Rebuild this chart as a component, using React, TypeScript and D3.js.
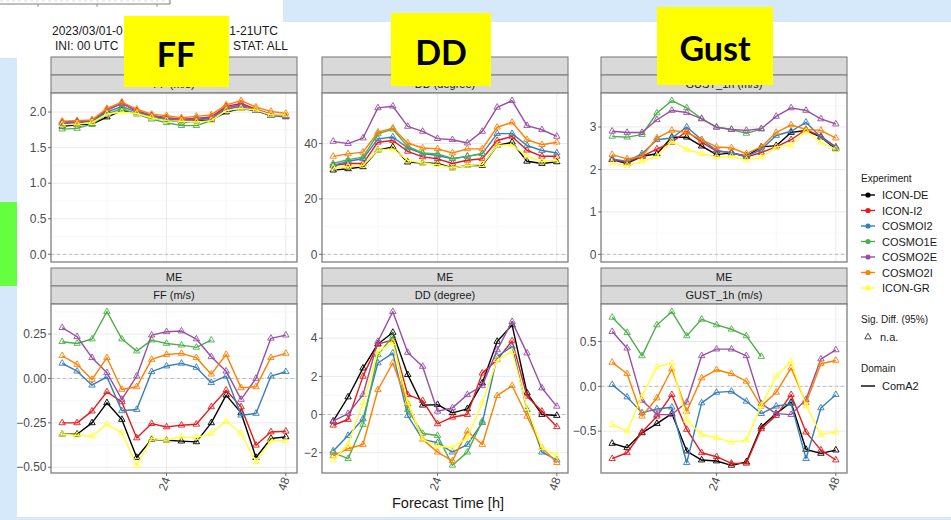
import React from "react";
import * as d3 from "d3";

// Forecast lead times (h)
const hours = [3, 6, 9, 12, 15, 18, 21, 24, 27, 30, 33, 36, 39, 42, 45, 48];

const experiments = ["ICON-DE", "ICON-I2", "COSMOI2", "COSMO1E", "COSMO2E", "COSMO2I", "ICON-GR"];
const palette = ["#000000", "#e41a1c", "#377eb8", "#4daf4a", "#984ea3", "#ff7f00", "#ffff33"];

// RMSE, wind speed FF (m/s)
const rmseFF: Record<string, number[]> = {
  "ICON-DE": [1.80, 1.82, 1.83, 1.93, 2.02, 1.98, 1.92, 1.89, 1.86, 1.87, 1.89, 2.00, 2.05, 2.02, 1.95, 1.94],
  "ICON-I2": [1.86, 1.87, 1.88, 2.03, 2.12, 2.02, 1.95, 1.92, 1.90, 1.91, 1.93, 2.08, 2.12, 2.04, 1.97, 1.95],
  COSMOI2: [1.84, 1.85, 1.87, 2.00, 2.08, 2.00, 1.94, 1.91, 1.88, 1.89, 1.91, 2.04, 2.08, 2.02, 1.95, 1.93],
  COSMO1E: [1.76, 1.77, 1.83, 1.97, 2.05, 1.97, 1.90, 1.85, 1.81, 1.81, 1.88],
  COSMO2E: [1.85, 1.86, 1.88, 2.02, 2.13, 2.01, 1.95, 1.92, 1.89, 1.90, 1.92, 2.06, 2.10, 2.03, 1.96, 1.94],
  COSMO2I: [1.87, 1.88, 1.89, 2.05, 2.14, 2.04, 1.97, 1.95, 1.92, 1.94, 1.96, 2.10, 2.16, 2.07, 2.01, 1.98],
  "ICON-GR": [1.82, 1.83, 1.85, 1.97, 2.00, 1.98, 1.92, 1.88, 1.87, 1.86, 1.88, 2.02, 2.05, 2.03, 1.96, 1.96],
};

// RMSE, wind direction DD (degree)
const rmseDD: Record<string, number[]> = {
  "ICON-DE": [30.4, 30.9, 31.6, 37.6, 38.8, 33.3, 33.0, 32.8, 31.2, 32.1, 32.1, 39.3, 40.5, 33.6, 32.8, 33.4],
  "ICON-I2": [32.1, 32.8, 32.8, 40.5, 41.1, 37.2, 35.2, 34.5, 32.8, 34.0, 34.5, 41.1, 42.6, 37.6, 35.4, 35.4],
  COSMOI2: [32.1, 33.6, 34.5, 41.7, 42.4, 38.4, 36.4, 35.7, 34.5, 35.4, 36.4, 43.6, 43.6, 39.3, 37.5, 36.6],
  COSMO1E: [32.8, 34.2, 35.1, 43.5, 45.2, 39.0, 36.6, 36.3, 34.6, 35.4, 36.3],
  COSMO2E: [40.8, 40.0, 42.0, 52.9, 53.5, 46.2, 44.4, 41.8, 41.4, 40.2, 44.4, 53.1, 55.5, 46.5, 45.0, 42.6],
  COSMO2I: [35.4, 36.3, 36.9, 44.1, 45.6, 40.2, 38.4, 38.1, 36.6, 38.1, 38.1, 45.9, 47.7, 41.4, 39.6, 40.5],
  "ICON-GR": [31.2, 31.6, 32.1, 37.6, 38.1, 33.9, 33.0, 32.4, 31.2, 32.1, 32.4, 39.3, 39.6, 35.4, 33.6, 34.0],
};

// RMSE, hourly gusts (m/s)
const rmseGust: Record<string, number[]> = {
  "ICON-DE": [2.23, 2.14, 2.31, 2.37, 2.76, 2.76, 2.55, 2.35, 2.39, 2.31, 2.53, 2.56, 2.87, 2.92, 2.76, 2.48],
  "ICON-I2": [2.23, 2.17, 2.31, 2.48, 2.64, 2.90, 2.64, 2.43, 2.40, 2.29, 2.40, 2.53, 2.70, 2.94, 2.78, 2.53],
  COSMOI2: [2.25, 2.19, 2.37, 2.70, 2.74, 3.00, 2.70, 2.45, 2.39, 2.31, 2.47, 2.80, 2.90, 3.11, 2.76, 2.51],
  COSMO1E: [2.78, 2.76, 2.82, 3.33, 3.62, 3.45, 3.20, 3.00, 2.94, 2.85, 2.95],
  COSMO2E: [2.90, 2.87, 2.87, 3.17, 3.39, 3.34, 3.19, 2.99, 2.94, 2.92, 2.96, 3.25, 3.45, 3.39, 3.19, 3.07],
  COSMO2I: [2.35, 2.25, 2.31, 2.74, 2.92, 2.87, 2.70, 2.53, 2.51, 2.37, 2.53, 2.87, 3.05, 2.94, 2.92, 2.74],
  "ICON-GR": [2.15, 2.09, 2.19, 2.31, 2.66, 2.47, 2.37, 2.29, 2.31, 2.22, 2.29, 2.53, 2.58, 2.90, 2.64, 2.47],
};

// Mean error, wind speed FF (m/s)
const meFF: Record<string, number[]> = {
  "ICON-DE": [-0.314, -0.314, -0.25, -0.137, -0.231, -0.445, -0.342, -0.348, -0.353, -0.357, -0.25, -0.094, -0.194, -0.445, -0.338, -0.329],
  "ICON-I2": [-0.25, -0.25, -0.184, -0.075, -0.132, -0.335, -0.254, -0.273, -0.263, -0.258, -0.16, -0.066, -0.16, -0.376, -0.301, -0.297],
  COSMOI2: [0.085, 0.041, -0.038, 0.009, -0.182, -0.175, 0.038, 0.07, 0.085, 0.062, -0.024, 0.013, -0.207, -0.197, 0.013, 0.038],
  COSMO1E: [0.207, 0.197, 0.222, 0.376, 0.222, 0.154, 0.216, 0.197, 0.188, 0.175, 0.216],
  COSMO2E: [0.286, 0.235, 0.117, 0.032, -0.118, 0.013, 0.244, 0.263, 0.267, 0.222, 0.122, 0.041, -0.118, 0.0, 0.226, 0.244],
  COSMO2I: [0.128, 0.079, -0.006, 0.117, -0.062, -0.047, 0.107, 0.135, 0.141, 0.117, 0.024, 0.135, -0.053, -0.047, 0.117, 0.141],
  "ICON-GR": [-0.314, -0.32, -0.325, -0.258, -0.306, -0.489, -0.338, -0.348, -0.329, -0.333, -0.31, -0.241, -0.31, -0.47, -0.348, -0.352],
};

// Mean error, wind direction DD (degree)
const meDD: Record<string, number[]> = {
  "ICON-DE": [-0.35, 0.92, 2.43, 3.70, 4.30, 2.09, 0.49, 0.52, 0.09, 0.30, 1.65, 3.83, 4.70, 1.13, 0.0, -0.05],
  "ICON-I2": [-0.56, -0.26, 2.0, 3.69, 3.91, 1.04, 0.73, -0.49, -0.14, 0.0, 2.17, 2.87, 3.86, 0.96, 0.17, -0.64],
  COSMOI2: [-1.91, -1.1, -0.23, 2.70, 3.22, -0.05, -1.30, -1.48, -1.97, -1.57, -0.43, 3.04, 3.57, 0.26, -1.97, -2.38],
  COSMO1E: [-2.0, -2.31, -0.52, 3.13, 4.1, 0.26, -0.99, -1.10, -2.66, -1.97, -0.35],
  COSMO2E: [-0.35, 0.05, 1.04, 3.83, 5.39, 3.25, 2.52, 0.17, 0.35, 1.04, 1.51, 3.39, 4.87, 3.22, 1.39, 0.43],
  COSMO2I: [-2.17, -1.79, -1.57, 1.30, 2.70, 0.57, -1.30, -1.97, -2.43, -0.87, -1.57, 0.99, 1.51, -0.09, -1.74, -2.52],
  "ICON-GR": [-2.38, -1.57, 0.61, 3.30, 3.77, 0.64, -1.30, -1.65, -1.74, -1.22, 0.61, 2.87, 3.30, 0.35, -1.74, -2.17],
};

// Mean error, hourly gusts (m/s)
const meGust: Record<string, number[]> = {
  "ICON-DE": [-0.637, -0.685, -0.519, -0.415, -0.304, -0.722, -0.822, -0.833, -0.881, -0.844, -0.452, -0.304, -0.178, -0.704, -0.748, -0.711],
  "ICON-I2": [-0.807, -0.741, -0.511, -0.333, -0.093, -0.481, -0.741, -0.785, -0.859, -0.859, -0.474, -0.326, -0.093, -0.511, -0.711, -0.822],
  COSMOI2: [0.019, -0.119, -0.296, -0.252, -0.233, -0.852, -0.185, -0.067, -0.056, -0.167, -0.304, -0.222, -0.193, -0.807, -0.241, -0.093],
  COSMO1E: [0.77, 0.60, 0.34, 0.685, 0.833, 0.563, 0.748, 0.685, 0.637, 0.563, 0.333],
  COSMO2E: [0.611, 0.426, -0.156, -0.315, -0.315, -0.178, 0.341, 0.415, 0.415, 0.341, -0.193, -0.304, -0.315, -0.148, 0.304, 0.407],
  COSMO2I: [0.267, 0.141, -0.333, -0.13, 0.193, -0.278, 0.093, 0.185, 0.141, 0.056, -0.222, -0.067, 0.204, -0.185, 0.252, 0.289],
  "ICON-GR": [-0.426, -0.5, -0.111, 0.215, 0.259, -0.378, -0.537, -0.574, -0.622, -0.6, -0.215, 0.111, 0.278, -0.215, -0.537, -0.511],
};

// Axis breaks
const xTicks = [24, 48];
const rmseFFTicks = [0, 0.5, 1, 1.5, 2];
const rmseDDTicks = [0, 20, 40];
const rmseGustTicks = [0, 1, 2, 3];
const meFFTicks = [-0.5, -0.25, 0, 0.25];
const meDDTicks = [-2, 0, 2, 4];
const meGustTicks = [-0.5, 0, 0.5];

// Upper strip labels; the RMSE row's upper strip sits beneath the variable labels
const scoreStrips = ["", "ME"];
const variables = ["FF (m/s)", "DD (degree)", "GUST_1h (m/s)"];

const FONT = "'Liberation Sans', Arial, Helvetica, sans-serif";

type PanelSpec = {
  data: Record<string, number[]>;
  ticks: number[];
  fmt: (v: number) => string;
};

const panels: PanelSpec[][] = [
  [
    { data: rmseFF, ticks: rmseFFTicks, fmt: d3.format(".1f") },
    { data: rmseDD, ticks: rmseDDTicks, fmt: d3.format("d") },
    { data: rmseGust, ticks: rmseGustTicks, fmt: d3.format("d") },
  ],
  [
    { data: meFF, ticks: meFFTicks, fmt: d3.format(".2f") },
    { data: meDD, ticks: meDDTicks, fmt: d3.format("d") },
    { data: meGust, ticks: meGustTicks, fmt: d3.format(".1f") },
  ],
];

const colLeft = [51, 322, 601];
const panelW = 246;
const rowStripTop = [57, 268];
const stripH = 18;
const panelH = 169;

const triangle = d3.symbol(d3.symbolTriangle, 18)() as string;

function minorBreaks(ticks: number[], lo: number, hi: number) {
  const step = ticks[1] - ticks[0];
  const out: number[] = [];
  for (let v = ticks[0] - step / 2; v <= ticks[ticks.length - 1] + step; v += step) {
    if (v > lo && v < hi) out.push(v);
  }
  return out;
}

function Panel({ row, col, spec }: { row: number; col: number; spec: PanelSpec }) {
  const x0 = colLeft[col];
  const sTop = rowStripTop[row];
  const y0 = sTop + 2 * stripH;
  const showX = row === 1;

  const all = experiments.flatMap((e) => spec.data[e]);
  const lo = Math.min(0, d3.min(all) as number);
  const hi = Math.max(0, d3.max(all) as number);
  const pad = (hi - lo) * 0.05;
  const y = d3.scaleLinear().domain([lo - pad, hi + pad]).range([y0 + panelH, y0]);
  const x = d3.scaleLinear().domain([0.75, 50.25]).range([x0, x0 + panelW]);

  const line = d3
    .line<number>()
    .x((_, i) => x(hours[i]))
    .y((d) => y(d));

  const minorY = minorBreaks(spec.ticks, lo - pad, hi + pad);
  const minorX = [12, 36];

  return (
    <g>
      {/* facet strips */}
      {[scoreStrips[row], variables[col]].map((label, k) => (
        <g key={k}>
          <rect x={x0} y={sTop + k * stripH} width={panelW} height={stripH} fill="#d9d9d9" stroke="#7f7f7f" strokeWidth={1.1} />
          {label && (
            <text x={x0 + panelW / 2} y={sTop + k * stripH + 13} textAnchor="middle" fontSize={11} fill="#1a1a1a" fontFamily={FONT}>
              {label}
            </text>
          )}
        </g>
      ))}
      <rect x={x0} y={y0} width={panelW} height={panelH} fill="#ffffff" />
      {/* grid */}
      {minorY.map((v) => (
        <line key={"my" + v} x1={x0} x2={x0 + panelW} y1={y(v)} y2={y(v)} stroke="#f2f2f2" strokeWidth={0.6} />
      ))}
      {minorX.map((v) => (
        <line key={"mx" + v} x1={x(v)} x2={x(v)} y1={y0} y2={y0 + panelH} stroke="#f2f2f2" strokeWidth={0.6} />
      ))}
      {spec.ticks.map((v) => (
        <line key={"gy" + v} x1={x0} x2={x0 + panelW} y1={y(v)} y2={y(v)} stroke="#e8e8e8" strokeWidth={0.9} />
      ))}
      {xTicks.map((v) => (
        <line key={"gx" + v} x1={x(v)} x2={x(v)} y1={y0} y2={y0 + panelH} stroke="#e8e8e8" strokeWidth={0.9} />
      ))}
      {/* reference line at zero */}
      <line x1={x0} x2={x0 + panelW} y1={y(0)} y2={y(0)} stroke="#a6a6a6" strokeWidth={0.7} strokeDasharray="3,3" />
      {/* series, drawn in legend order */}
      {experiments.map((name, i) => {
        const vals = spec.data[name];
        return (
          <g key={name}>
            <path d={line(vals) as string} fill="none" stroke={palette[i]} strokeWidth={1.4} strokeLinejoin="round" />
            {vals.map((v, j) => (
              <path key={j} d={triangle} transform={`translate(${x(hours[j])},${y(v)})`} fill="none" stroke={palette[i]} strokeWidth={0.9} />
            ))}
          </g>
        );
      })}
      <rect x={x0} y={y0} width={panelW} height={panelH} fill="none" stroke="#7f7f7f" strokeWidth={1.3} />
      {/* y axis */}
      {spec.ticks.map((v) => (
        <g key={"yt" + v}>
          <line x1={x0 - 3} x2={x0} y1={y(v)} y2={y(v)} stroke="#4d4d4d" strokeWidth={0.8} />
          <text x={x0 - 4.5} y={y(v) + 4.2} textAnchor="end" fontSize={12} fill="#4d4d4d" fontFamily={FONT}>
            {spec.fmt(v)}
          </text>
        </g>
      ))}
      {/* x axis */}
      {showX &&
        xTicks.map((v) => (
          <g key={"xt" + v}>
            <line x1={x(v)} x2={x(v)} y1={y0 + panelH} y2={y0 + panelH + 3} stroke="#4d4d4d" strokeWidth={0.8} />
            <text
              transform={`translate(${x(v) + 4},${y0 + panelH + 6}) rotate(-70)`}
              textAnchor="end"
              fontSize={12}
              fill="#4d4d4d"
              fontFamily={FONT}
            >
              {v}
            </text>
          </g>
        ))}
    </g>
  );
}

function Legend() {
  const lx = 861;
  return (
    <g fontFamily={FONT} fill="#1a1a1a">
      <text x={lx} y={182} fontSize={10}>Experiment</text>
      {experiments.map((e, i) => {
        const cy = 195 + i * 15.5;
        return (
          <g key={e}>
            <line x1={lx} x2={lx + 14} y1={cy} y2={cy} stroke={palette[i]} strokeWidth={1.4} />
            <circle cx={lx + 7} cy={cy} r={2.6} fill={palette[i]} />
            <text x={lx + 21} y={cy + 4} fontSize={11}>{e}</text>
          </g>
        );
      })}
      <text x={lx} y={323} fontSize={10}>Sig. Diff. (95%)</text>
      <path d={triangle} transform={`translate(${lx + 7},${337})`} fill="none" stroke="#333" strokeWidth={0.9} />
      <text x={lx + 19} y={341} fontSize={11}>n.a.</text>
      <text x={lx} y={372} fontSize={10}>Domain</text>
      <line x1={lx} x2={lx + 14} y1={386} y2={386} stroke="#000" strokeWidth={1.4} />
      <text x={lx + 21} y={390} fontSize={11}>ComA2</text>
    </g>
  );
}

export default function App() {
  const W = 951;
  const H = 520;
  return (
    <svg width={W} height={H} style={{ position: "absolute", left: 0, top: 0 }} fontFamily={FONT}>
      {/* slide background */}
      <rect x={0} y={0} width={W} height={H} fill="#d6e9fb" />
      <rect x={0} y={0} width={283} height={58} fill="#ffffff" />
      <rect x={17} y={22} width={W - 17} height={495} fill="#ffffff" />
      <rect x={0} y={202} width={17} height={84} fill="#66ff3f" />

      {/* lower edge of the preceding figure */}
      <g stroke="#7f7f7f">
        <line x1={0} x2={170} y1={4} y2={4} strokeWidth={1.1} />
        <line x1={170} x2={170} y1={0} y2={4} strokeWidth={1.1} />
        <line x1={0} x2={170} y1={1} y2={1} strokeWidth={0.6} strokeDasharray="3,3" stroke="#c8c8c8" />
        {[38, 97, 157].map((t) => (
          <line key={t} x1={t} x2={t} y1={4} y2={7} strokeWidth={0.8} />
        ))}
      </g>

      {/* title, partly covered by the FF label */}
      <g fontSize={12} fill="#1a1a1a">
        <text x={52} y={35}>2023/03/01-0</text>
        <text x={278} y={35} textAnchor="end">1-21UTC</text>
        <text x={55} y={49.5}>INI: 00 UTC</text>
        <text x={288} y={49.5} textAnchor="end">STAT: ALL</text>
      </g>

      {panels.map((row, r) => row.map((spec, c) => <Panel key={`${r}-${c}`} row={r} col={c} spec={spec} />))}

      <text x={448} y={508} textAnchor="middle" fontSize={14.5} fill="#1a1a1a">
        Forecast Time [h]
      </text>

      <Legend />

      {/* variable labels */}
      <g fontFamily="Lato, 'Open Sans', sans-serif" fontWeight={700} fontSize={34} fill="#000">
        <rect x={124} y={16} width={105} height={71} fill="#ffff00" />
        <text x={176} y={67} textAnchor="middle">FF</text>
        <rect x={391} y={13} width={100} height={73} fill="#ffff00" />
        <text x={441} y={65} textAnchor="middle">DD</text>
        <rect x={657} y={7} width={116} height={78} fill="#ffff00" />
        <text x={715} y={61} textAnchor="middle">Gust</text>
      </g>
    </svg>
  );
}
